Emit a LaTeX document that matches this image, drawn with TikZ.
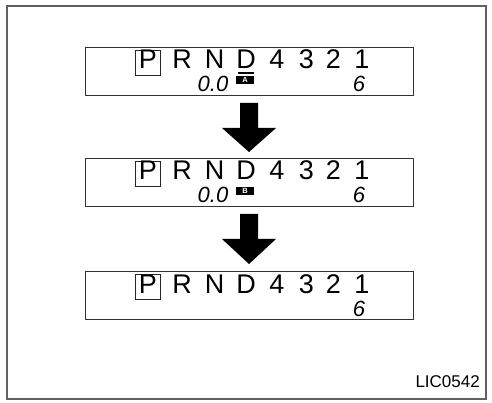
\documentclass[tikz,border=0pt]{standalone}
\usepackage{fontspec}
\setmainfont{Liberation Sans}
\begin{document}
\begin{tikzpicture}[x=1pt,y=-1pt,
  frame/.style={draw=black!62, line width=2pt},
  display/.style={draw=black!80, line width=0.9pt, minimum width=328pt, minimum height=48pt, inner sep=0pt},
  pbox/.style={draw=black!85, line width=0.9pt, minimum width=25pt, minimum height=25pt, inner sep=0pt},
  gear/.style={font=\fontsize{27}{27}\selectfont, anchor=base, inner sep=0pt},
  lcd/.style={font=\fontsize{22}{22}\selectfont\itshape, anchor=base, inner sep=0pt},
  tag/.style={fill=black, text=white, font=\fontsize{7.5}{7.5}\selectfont\bfseries, minimum width=18pt, minimum height=8pt, inner sep=0pt},
  bigarrow/.style={fill=black, draw=none},
  code/.style={font=\fontsize{17}{17}\selectfont, anchor=base east, inner sep=0pt}]
\useasboundingbox (0,0) rectangle (492,403);
\draw[frame] (7,6) rectangle (486,399);
\foreach \i/\dy in {1/0, 2/111, 3/224} {
  \begin{scope}[shift={(0,\dy)}]
    \node[display] (box\i) at (249,71) {};
    \node[pbox] (pb\i) at (147.5,62.5) {};
    \node[gear] (P\i) at (148,69) {P};
    \node[gear] (R\i) at (182,69) {R};
    \node[gear] (N\i) at (214.5,69) {N};
    \node[gear] (D\i) at (246,69) {D};
    \node[gear] (four\i) at (277,69) {4};
    \node[gear] (three\i) at (306.5,69) {3};
    \node[gear] (two\i) at (333.5,69) {2};
    \node[gear] (one\i) at (362,69) {1};
    \node[lcd] (six\i) at (359,92) {6};
  \end{scope}
}
% underline under D (first display)
\draw[line width=1.2pt] (238,73) -- (254,73);
% odometer readings and tags
\node[lcd] (odoA) at (213,92) {0.0};
\node[tag] (tagA) at (245,80) {A};
\node[lcd] (odoB) at (213,203) {0.0};
\node[tag] (tagB) at (245,191) {B};
% arrows
\fill[bigarrow] (240,103) -- (258,103) -- (258,128) -- (276,128) -- (249,152) -- (222,128) -- (240,128) -- cycle;
\fill[bigarrow] (240,214) -- (258,214) -- (258,239) -- (276,239) -- (249,264) -- (222,239) -- (240,239) -- cycle;
\node[code] (lic) at (480,387) {LIC0542};
\end{tikzpicture}
\end{document}
